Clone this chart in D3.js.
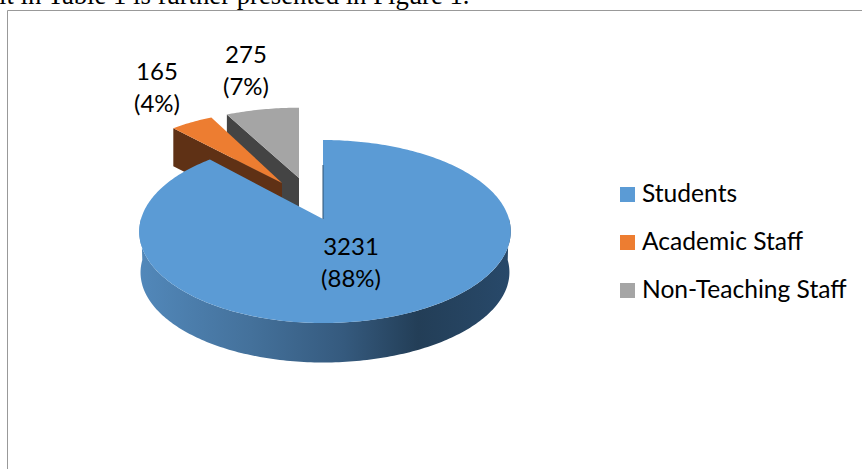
<!doctype html>
<html>
  <head>
    <meta charset="utf-8">
    <script src="https://cdnjs.cloudflare.com/ajax/libs/d3/7.8.5/d3.min.js"></script>
    <style>
      html, body { margin: 0; padding: 0; background: #fff; }
      svg { display: block; }
      text { font-family: Lato, sans-serif; fill: #000; }
    </style>
  </head>
  <body>
    <svg id="chart" width="862" height="469"></svg>
    <script>
      var categories = ["Students", "Academic Staff", "Non-Teaching Staff"];
      var counts = [3231, 165, 275];
      var colors = ["#5b9bd5", "#ed7d31", "#a5a5a5"];
      var wallColors = ["url(#wallGrad)", "#5f3115", "#444444"];

      // where each wedge sits once pulled out of the pie
      var apexX = [323, 282, 299];
      var apexY = [219, 183, 178];
      var wedgeScaleX = [1, 0.95, 0.97];
      var wedgeScaleY = [1, 0.92, 0.89];
      var wedgeDepth = [41, 38, 38];
      var labelX = [351, 157, 246];
      var labelY = [255, 80, 63];

      var svg = d3.select("#chart");

      var grad = svg.append("defs").append("linearGradient")
          .attr("id", "wallGrad")
          .attr("gradientUnits", "userSpaceOnUse")
          .attr("x1", 139).attr("x2", 511).attr("y1", 0).attr("y2", 0);
      [[0, "#5288ba"], [0.3, "#44719b"], [0.55, "#355a7e"], [0.75, "#233e57"], [1, "#28496a"]].forEach(function(s) {
        grad.append("stop").attr("offset", s[0]).attr("stop-color", s[1]);
      });

      // page text and the chart frame
      svg.append("text")
          .attr("x", -1).attr("y", 4)
          .style("font-family", "'Liberation Serif', serif")
          .style("font-size", "26.7px")
          .text("it in Table 1 is further presented in Figure 1.");
      svg.append("path")
          .attr("d", "M7.5,469V10.5H862")
          .attr("fill", "none")
          .attr("stroke", "#999999")
          .attr("stroke-width", 1);

      var pie = d3.pie().sort(null);
      var slices = pie(counts);

      // tilted disc: the far side shrinks a little, so the apex is off centre
      var radiusX = 184, radiusY = 89.8, perspective = 0.137;
      function project(angle, i, depth) {
        var w = 1 + perspective * Math.cos(angle);
        var kx = wedgeScaleX[i] * (depth ? 0.993 : 1);
        var ky = wedgeScaleY[i] * (depth ? 0.985 : 1);
        var sin = Math.sin(angle);
        return [
          apexX[i] + kx * radiusX * sin / w + (i === 0 ? 2 * Math.abs(sin) : 0),
          apexY[i] + (depth || 0) - ky * radiusY * Math.cos(angle) / w
        ];
      }

      function arcPoints(a0, a1, i, depth) {
        var n = Math.max(2, Math.ceil((a1 - a0) * 60));
        return d3.range(n + 1).map(function(j) {
          return project(a0 + (a1 - a0) * j / n, i, depth);
        });
      }

      var line = d3.line();

      // side walls first, far wedges underneath the main one
      [2, 1].forEach(function(i) {
        var s = slices[i];
        var d = wedgeDepth[i];
        var top = arcPoints(s.startAngle, s.endAngle, i, 0);
        svg.append("path")
            .attr("d", line([
              [apexX[i], apexY[i]],
              top[0],
              [top[0][0], top[0][1] + d],
              [apexX[i], apexY[i] + d]
            ]) + "Z")
            .attr("fill", wallColors[i]);
        svg.append("path")
            .attr("d", line([[apexX[i], apexY[i]]].concat(top)) + "Z")
            .attr("fill", colors[i]);
      });

      // front wall of the big slice
      var s0 = slices[0];
      var frontTop = arcPoints(Math.PI * 0.5, Math.PI * 1.5, 0, 0);
      var frontBottom = arcPoints(Math.PI * 0.5, Math.PI * 1.5, 0, wedgeDepth[0]).reverse();
      svg.append("path")
          .attr("d", line(frontTop.concat(frontBottom)) + "Z")
          .attr("fill", wallColors[0]);

      svg.append("path")
          .attr("d", line([[apexX[0], apexY[0]]].concat(arcPoints(s0.startAngle, s0.endAngle, 0, 0))) + "Z")
          .attr("fill", colors[0]);

      // thin dark seam on the cut edge
      svg.append("line")
          .attr("x1", apexX[0]).attr("x2", apexX[0])
          .attr("y1", 165).attr("y2", apexY[0])
          .attr("stroke", "#2f5373")
          .attr("stroke-width", 1);

      // data labels
      var total = d3.sum(counts);
      counts.forEach(function(v, i) {
        var t = svg.append("text")
            .attr("text-anchor", "middle")
            .style("font-size", "24px");
        t.append("tspan").attr("x", labelX[i]).attr("y", labelY[i]).text(v);
        t.append("tspan").attr("x", labelX[i]).attr("y", labelY[i] + 32)
            .text("(" + Math.round(v / total * 100) + "%)");
      });

      // legend
      var legendY = d3.scalePoint().domain(categories).range([187, 283]);
      var legend = svg.selectAll("g.legend")
          .data(categories)
          .enter()
          .append("g")
          .attr("class", "legend")
          .attr("transform", function(d) { return "translate(620," + legendY(d) + ")"; });
      legend.append("rect")
          .attr("width", 15).attr("height", 15)
          .attr("fill", function(d, i) { return colors[i]; });
      legend.append("text")
          .attr("x", 22).attr("y", 15)
          .style("font-size", "24.6px")
          .text(function(d) { return d; });
    </script>
  </body>
</html>
